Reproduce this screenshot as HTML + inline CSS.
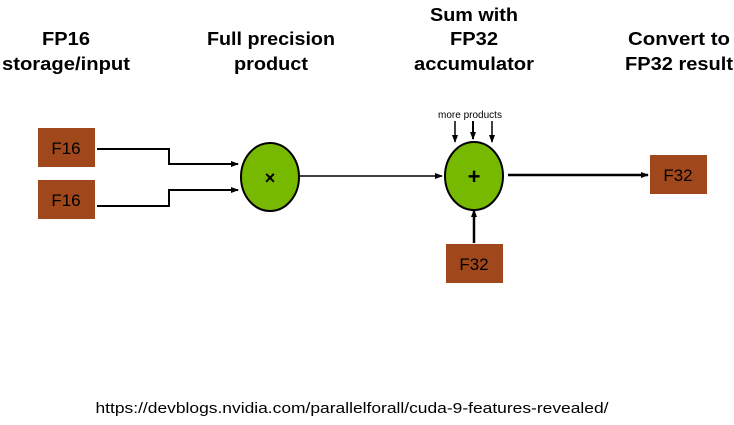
<!DOCTYPE html>
<html><head><style>
body{margin:0;background:#fff;width:734px;height:420px;overflow:hidden;font-family:"Liberation Sans",sans-serif}
</style></head><body>
<svg width="734" height="420" xmlns="http://www.w3.org/2000/svg">
<defs><marker id="a" markerWidth="8" markerHeight="8" refX="7" refY="4" orient="auto" markerUnits="userSpaceOnUse"><path d="M0,1 L8,4 L0,7 z" fill="#000"/></marker></defs>
<g font-family="Liberation Sans, sans-serif" font-weight="bold" font-size="18" text-anchor="middle" fill="#000" lengthAdjust="spacingAndGlyphs">
<text x="66" y="45" textLength="48" lengthAdjust="spacingAndGlyphs">FP16</text><text x="66" y="70" textLength="128" lengthAdjust="spacingAndGlyphs">storage/input</text>
<text x="271" y="45" textLength="128" lengthAdjust="spacingAndGlyphs">Full precision</text><text x="271" y="70" textLength="74" lengthAdjust="spacingAndGlyphs">product</text>
<text x="474" y="21" textLength="88" lengthAdjust="spacingAndGlyphs">Sum with</text><text x="474" y="45" textLength="48" lengthAdjust="spacingAndGlyphs">FP32</text><text x="474" y="70" textLength="120" lengthAdjust="spacingAndGlyphs">accumulator</text>
<text x="679" y="45" textLength="102" lengthAdjust="spacingAndGlyphs">Convert to</text><text x="679" y="70" textLength="108" lengthAdjust="spacingAndGlyphs">FP32 result</text>
</g>
<g fill="#a0481b">
<rect x="38" y="128" width="57" height="39"/>
<rect x="38" y="180" width="57" height="39"/>
<rect x="650" y="155" width="57" height="39"/>
<rect x="446" y="244" width="57" height="39"/>
</g>
<g font-size="17" text-anchor="middle" fill="#000">
<text x="66" y="154">F16</text><text x="66" y="206">F16</text>
<text x="678" y="181">F32</text><text x="474" y="270">F32</text>
</g>
<g stroke="#000" fill="none" stroke-width="2">
<polyline points="97,149 169,149 169,164 238,164" marker-end="url(#a)"/>
<polyline points="97,206 169,206 169,190 238,190" marker-end="url(#a)"/>
<line x1="300" y1="176" x2="442" y2="176" stroke-width="1.5" marker-end="url(#a)"/>
<line x1="508" y1="175" x2="648" y2="175" stroke-width="2.5" marker-end="url(#a)"/>
<line x1="474" y1="243" x2="474" y2="210" stroke-width="2.5" marker-end="url(#a)"/>
<line x1="455" y1="121" x2="455" y2="142" stroke-width="1.5" marker-end="url(#a)"/>
<line x1="473" y1="121" x2="473" y2="139" stroke-width="2" marker-end="url(#a)"/>
<line x1="492" y1="121" x2="492" y2="142" stroke-width="1.5" marker-end="url(#a)"/>
</g>
<ellipse cx="270" cy="177" rx="29" ry="34" fill="#76b900" stroke="#000" stroke-width="2"/>
<ellipse cx="474" cy="176" rx="29" ry="34" fill="#76b900" stroke="#000" stroke-width="2"/>
<text x="270" y="184" font-size="18" font-weight="bold" text-anchor="middle">×</text>
<text x="474" y="184" font-size="22" font-weight="bold" text-anchor="middle">+</text>
<text x="470" y="118" font-size="10" text-anchor="middle">more products</text>
<text x="352" y="413" font-size="15" text-anchor="middle" textLength="513" lengthAdjust="spacingAndGlyphs">https://devblogs.nvidia.com/parallelforall/cuda-9-features-revealed/</text>
</svg>
</body></html>
